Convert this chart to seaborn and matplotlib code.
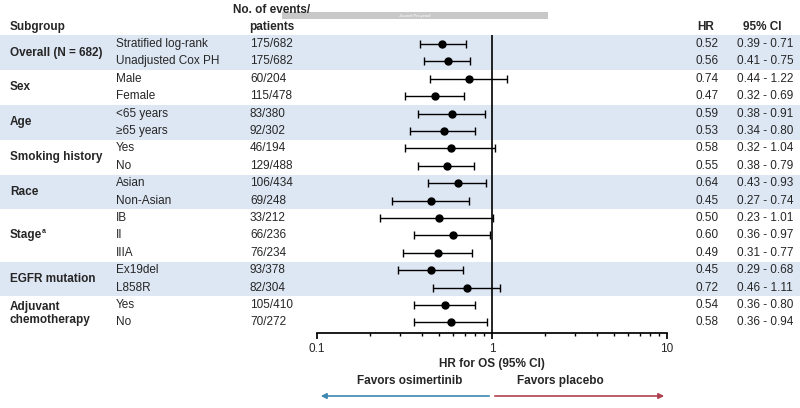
import numpy as np
import matplotlib.pyplot as plt
import seaborn as sns
from matplotlib.patches import Rectangle

sns.set_theme(style="white")
plt.rcParams['font.family'] = ['Liberation Sans', 'DejaVu Sans']

groups = ['Overall (N = 682)', 'Sex', 'Age', 'Smoking history', 'Race', 'Stage', 'EGFR mutation',
          'Adjuvant\nchemotherapy']
group_sizes = [2, 2, 2, 2, 2, 3, 2, 2]
subgroups = ['Stratified log-rank', 'Unadjusted Cox PH', 'Male', 'Female', '<65 years', '≥65 years',
             'Yes', 'No', 'Asian', 'Non-Asian', 'IB', 'II', 'IIIA', 'Ex19del', 'L858R', 'Yes', 'No']
events = ['175/682', '175/682', '60/204', '115/478', '83/380', '92/302', '46/194', '129/488',
          '106/434', '69/248', '33/212', '66/236', '76/234', '93/378', '82/304', '105/410', '70/272']
hr = [0.52, 0.56, 0.74, 0.47, 0.59, 0.53, 0.58, 0.55, 0.64, 0.45, 0.50, 0.60, 0.49, 0.45, 0.72, 0.54, 0.58]
lo = [0.39, 0.41, 0.44, 0.32, 0.38, 0.34, 0.32, 0.38, 0.43, 0.27, 0.23, 0.36, 0.31, 0.29, 0.46, 0.36, 0.36]
hi = [0.71, 0.75, 1.22, 0.69, 0.91, 0.80, 1.04, 0.79, 0.93, 0.74, 1.01, 0.97, 0.77, 0.68, 1.11, 0.80, 0.94]

W, H = 800, 408
FS = 8.5
y0, dy = 44, 17.4  # pixel position of first row, row spacing
def row(p):
    return (p - y0) / dy

fig = plt.figure(figsize=(8, 4.08), dpi=100)
bg = fig.add_axes([0, 0, 1, 1])
bg.set_xlim(0, W)
bg.set_ylim(row(H), row(0))
bg.axis('off')

ax = fig.add_axes([317 / W, 1 - 333 / H, 350 / W, (333 - 35) / H])
ax.set_ylim(row(333), row(35))

# shaded bands and group labels
start = 0
for k, n in enumerate(group_sizes):
    if k % 2 == 0:
        bg.add_patch(Rectangle((0, start - 0.5), W, n, color='#dde6f3', lw=0, zorder=0))
    gy = start + (n - 1) / 2
    if groups[k] == 'Stage':
        bg.text(10, gy, 'Stage', fontsize=FS, fontweight='bold', va='center')
        bg.text(42, gy - 0.25, 'a', fontsize=5, fontweight='bold', va='center')
    else:
        bg.text(10, gy, groups[k], fontsize=FS, fontweight='bold', va='center', linespacing=1.1)
    start += n

rows = np.arange(len(subgroups))
for i in rows:
    bg.text(116, i, subgroups[i], fontsize=FS, va='center')
    bg.text(250, i, events[i], fontsize=FS, va='center')
    bg.text(695, i, f'{hr[i]:.2f}', fontsize=FS, va='center')
    bg.text(737, i, f'{lo[i]:.2f} - {hi[i]:.2f}', fontsize=FS, va='center')

# headers
bg.text(10, row(27), 'Subgroup', fontsize=FS, fontweight='bold', va='center')
bg.text(272, row(10), 'No. of events/', fontsize=FS, fontweight='bold', va='center', ha='center')
bg.text(272, row(27), 'patients', fontsize=FS, fontweight='bold', va='center', ha='center')
bg.text(706, row(27), 'HR', fontsize=FS, fontweight='bold', va='center', ha='center')
bg.text(762, row(27), '95% CI', fontsize=FS, fontweight='bold', va='center', ha='center')
bg.add_patch(Rectangle((282, row(19)), 266, row(12) - row(19), color='#c8c8c8', lw=0))
bg.text(415, row(15.5), 'Journal Pre-proof', fontsize=3, color='white', ha='center', va='center')

# forest
ax.patch.set_alpha(0)
ax.set_xscale('log')
ax.set_xlim(0.1, 10)
hr_a, lo_a, hi_a = np.array(hr), np.array(lo), np.array(hi)
ax.errorbar(hr_a, rows, xerr=[hr_a - lo_a, hi_a - hr_a], fmt='o', color='black', ms=5,
            elinewidth=1, capsize=3, capthick=1)
ax.axvline(1, color='black', lw=1.2)
for s in ['top', 'right', 'left']:
    ax.spines[s].set_visible(False)
ax.spines['bottom'].set_color('black')
ax.set_yticks([])
ax.set_xticks([0.1, 1, 10])
ax.set_xticklabels(['0.1', '1', '10'], fontsize=FS)
ax.tick_params(axis='x', which='both', direction='out', bottom=True, length=4, color='black', pad=3)
ax.tick_params(axis='x', which='minor', length=2.5)
ax.set_xlabel('HR for OS (95% CI)', fontsize=FS, fontweight='bold', labelpad=2)

# favors arrows
ya = row(396)
bg.annotate('', xy=(318, ya), xytext=(492, ya),
            arrowprops=dict(arrowstyle='-|>', color='#3f88b2', lw=1.2, mutation_scale=8))
bg.annotate('', xy=(667, ya), xytext=(492, ya),
            arrowprops=dict(arrowstyle='-|>', color='#b0414f', lw=1.2, mutation_scale=8))
bg.text(410, row(381), 'Favors osimertinib', fontsize=FS, fontweight='bold', ha='center', va='center')
bg.text(560, row(381), 'Favors placebo', fontsize=FS, fontweight='bold', ha='center', va='center')

fig.savefig('out.png', dpi=100)
